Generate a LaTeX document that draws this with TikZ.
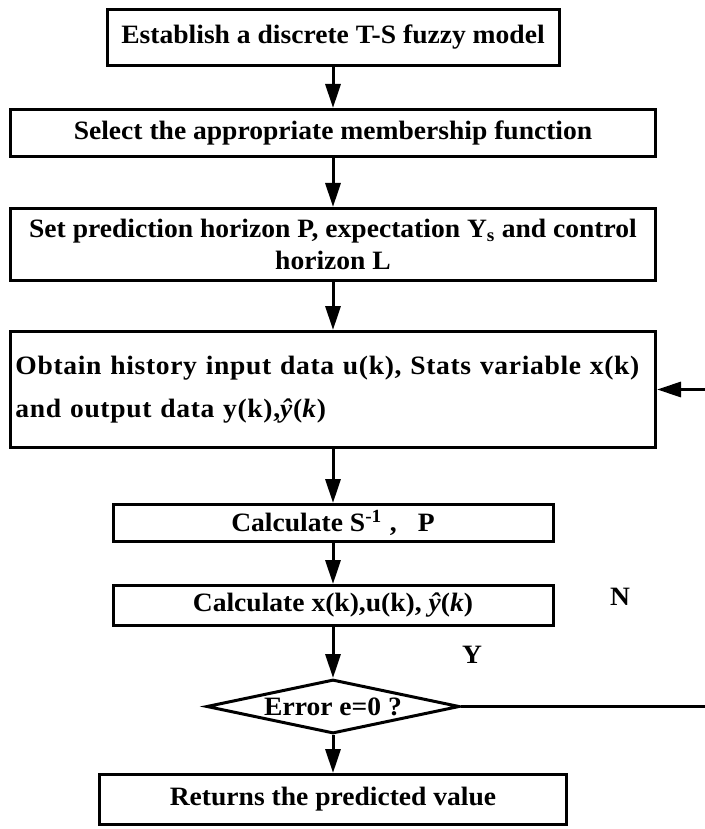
\documentclass[tikz,border=0pt]{standalone}
\usepackage{fontspec}
\setmainfont{Liberation Serif}[FakeStretch=1.04]
\usetikzlibrary{shapes,arrows.meta,positioning}
\tikzstyle{block}=[draw, line width=3pt, rectangle, align=center, inner sep=4pt]
\tikzstyle{decision}=[draw, line width=3pt, diamond, aspect=4.7, inner sep=-4pt, minimum width=253pt, minimum height=54pt]
\tikzstyle{arrow}=[draw, line width=3pt, -{Triangle[length=24pt,width=15pt]}]
\tikzstyle{lbl}=[inner sep=0pt]

\begin{document}
\begin{tikzpicture}[x=1pt,y=-1pt,font=\fontsize{26.5}{32}\selectfont\bfseries]
\useasboundingbox (0,0) rectangle (704,829);

\node [block, minimum width=452pt, minimum height=56pt] (model) at (333,37.5) {Establish a discrete T-S fuzzy model};
\node [block, minimum width=645pt, minimum height=47pt, below=41pt of model] (member) {Select the appropriate membership function};
\node [block, minimum width=645pt, minimum height=72pt, below=49pt of member] (horizon) {Set prediction horizon P, expectation Y\textsubscript{s} and control\\horizon L};
\node [block, minimum width=645pt, minimum height=116pt, text width=635pt, align=left, inner sep=5pt, below=48pt of horizon] (history) {\addfontfeature{LetterSpace=2.5}Obtain history input data u(k), Stats variable x(k)\\[11pt]\addfontfeature{LetterSpace=2.5}and output data y(k),\textit{ŷ}(\textit{k})};
\node [block, minimum width=440pt, minimum height=37pt, below=54pt of history] (inverse) {Calculate S\textsuperscript{-1}\hspace{0.3em},\hspace{0.8em}P};
\node [block, minimum width=440pt, minimum height=40pt, below=41pt of inverse] (calc) {Calculate x(k),u(k), \textit{ŷ}(\textit{k})};
\node [decision, below=51pt of calc] (check) {Error e=0 ?};
\node [block, minimum width=467pt, minimum height=50pt, below=38pt of check] (result) {Returns the predicted value};

\node [lbl] (no) at (620,597) {N};
\node [lbl] (yes) at (472,655) {Y};

\coordinate (back) at (706,550);

\draw [arrow] (model) -- (member);
\draw [arrow] (member) -- (horizon);
\draw [arrow] (horizon) -- (history);
\draw [arrow] (history) -- (inverse);
\draw [arrow] (inverse) -- (calc);
\draw [arrow] (calc) -- (check);
\draw [arrow] (check) -- (result);
\draw [arrow] (check.east) -| (back) |- (history.east);

\end{tikzpicture}
\end{document}
